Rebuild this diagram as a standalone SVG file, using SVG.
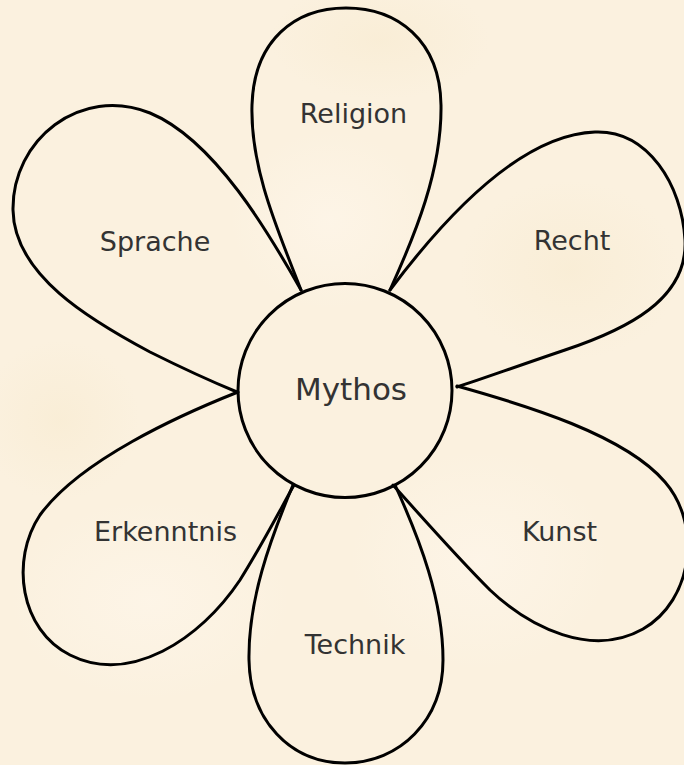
<svg xmlns="http://www.w3.org/2000/svg" width="684" height="765" viewBox="0 0 684 765">
<defs>
<style>
.petal{fill:none;stroke:#000;stroke-width:3;stroke-linejoin:round;stroke-linecap:round}
.lbl{font-family:"DejaVu Sans","Liberation Sans",sans-serif;font-size:27px;fill:#333;text-anchor:middle}
.center-lbl{font-size:31px}
</style>
<radialGradient id="blotch1" cx="0.5" cy="0.5" r="0.5">
<stop offset="0" stop-color="#f7e9cc" stop-opacity="0.45"/>
<stop offset="1" stop-color="#f7e9cc" stop-opacity="0"/>
</radialGradient>
<radialGradient id="blotch2" cx="0.5" cy="0.5" r="0.5">
<stop offset="0" stop-color="#fef6ea" stop-opacity="0.7"/>
<stop offset="1" stop-color="#fef6ea" stop-opacity="0"/>
</radialGradient>
</defs>
<rect x="0" y="0" width="684" height="765" fill="#fbf1df"/>
<ellipse cx="570" cy="270" rx="110" ry="90" fill="url(#blotch1)"/>
<ellipse cx="380" cy="40" rx="110" ry="60" fill="url(#blotch1)"/>
<ellipse cx="60" cy="420" rx="80" ry="80" fill="url(#blotch1)"/>
<ellipse cx="150" cy="600" rx="140" ry="100" fill="url(#blotch2)"/>
<ellipse cx="480" cy="560" rx="130" ry="110" fill="url(#blotch2)"/>
<ellipse cx="330" cy="220" rx="100" ry="90" fill="url(#blotch2)"/>

<g id="petal-religion">
<path class="petal" d="M301,290 C280,235 250,170 252,105 C254,40 295,8 346,8 C397,8 440,40 441,105 C442,170 415,235 390,290"/>
<text class="lbl" x="353.5" y="123">Religion</text>
</g>
<g id="petal-recht">
<path class="petal" d="M390,290 C435,230 515,135 595,132 C648,130 682,185 685,240 C688,300 625,330 565,350 C512,368 476,381 457,387"/>
<text class="lbl" x="572" y="250">Recht</text>
</g>
<g id="petal-sprache">
<path class="petal" d="M301,290 C270,235 215,140 150,113 C80,85 12,140 13,210 C14,275 90,320 150,352 C190,372 220,385 237,392"/>
<text class="lbl" x="155" y="251">Sprache</text>
</g>
<g id="petal-erkenntnis">
<path class="petal" d="M238,392 C180,415 80,460 40,515 C10,560 20,630 70,655 C130,685 200,640 240,580 C262,545 280,510 294,485"/>
<text class="lbl" x="165.5" y="541">Erkenntnis</text>
</g>
<g id="petal-technik">
<path class="petal" d="M293,485 C270,540 248,600 249,660 C250,720 290,763 345,763 C400,763 443,720 443,660 C443,600 420,540 395,485"/>
<text class="lbl" x="355" y="654">Technik</text>
</g>
<g id="petal-kunst">
<path class="petal" d="M457,386 C525,405 625,435 665,482 C702,525 693,600 643,629 C592,658 530,628 490,590 C455,555 420,515 393,485"/>
<text class="lbl" x="559.5" y="541">Kunst</text>
</g>
<g id="node-mythos">
<circle cx="345" cy="390.5" r="107" fill="none" stroke="#000" stroke-width="3"/>
<text class="lbl center-lbl" x="351" y="400">Mythos</text>
</g>
<g id="connectors"/>
</svg>
